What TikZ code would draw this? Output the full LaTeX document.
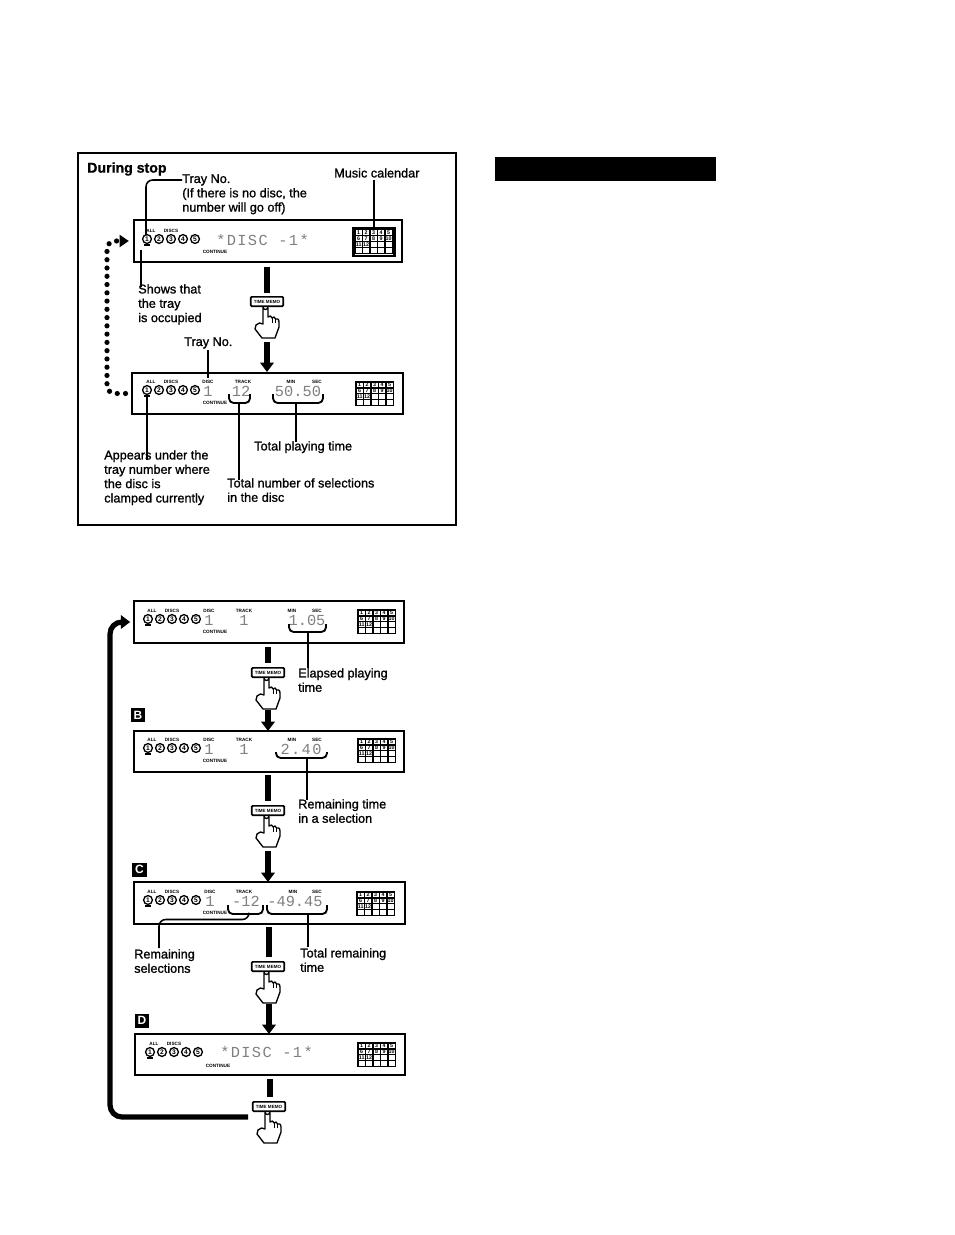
\documentclass[tikz,border=0pt]{standalone}
\usepackage{fontspec}
\setmainfont{Liberation Sans}
\newfontfamily\labelfont[FakeBold=1.1]{Liberation Sans}
\newfontfamily\segfont{Liberation Mono}
\newfontfamily\segwide[LetterSpace=9]{Liberation Mono}
\usetikzlibrary{arrows.meta}
\tikzset{
  panel/.style={draw,line width=1.7pt,fill=white,inner sep=0pt},
  callout/.style={font=\labelfont\fontsize{9.5}{10.75}\selectfont,align=left,anchor=north west,inner sep=0pt},
  mark label/.style={font=\bfseries\fontsize{3.5}{4}\selectfont,inner sep=0pt},
  segtext/.style={font=\segfont\fontsize{11.5}{12}\selectfont,text=black!50,inner sep=0pt},
  segwidetext/.style={font=\segwide\fontsize{11.5}{12}\selectfont,text=black!50,inner sep=0pt},
  tray disc/.style={circle,draw,line width=1pt,minimum size=6.6pt,inner sep=0pt,fill=white,font=\bfseries\fontsize{5}{5}\selectfont},
  leader/.style={line width=1.15pt},
  cal cell/.style={draw,line width=.85pt,minimum width=5.6pt,minimum height=4.5pt,inner sep=0pt,font=\bfseries\fontsize{4}{4}\selectfont},
  step bar/.style={line width=3.9pt},
  step arrow/.style={line width=3.9pt,-{Triangle[length=7pt,width=10pt]}},
  tag/.style={fill=black,text=white,minimum width=11pt,minimum height=10.5pt,inner sep=0pt,font=\bfseries\fontsize{9}{10}\selectfont},
  memo key/.style={draw,line width=1.3pt,rounded corners=.8pt,fill=white,minimum width=24.5pt,minimum height=7pt,inner sep=0pt,font=\bfseries\fontsize{3.4}{4}\selectfont},
  hand/.style={line width=1pt,fill=white,line join=round},
  bracket/.style={line width=1.4pt,rounded corners=3.5pt},
}

% Row of five tray numbers with the ALL and DISCS marks above it: name, first x, y
\newcommand{\trayrow}[3]{%
  \foreach \n in {1,...,5}{%
    \pgfmathsetmacro{\cx}{#2+(\n-1)*12}
    \node[tray disc] (#1-d\n) at (\cx,#3) {\n};
  }
  \node[mark label] (#1-all) at (#2+4,#3-8) {ALL};
  \node[mark label] (#1-discs) at (#2+24,#3-8) {DISCS};
  \draw[line width=.8pt] (#2-3,#3+6) -- (#2+3,#3+6);
}

% Music calendar grid, ten numbered cells: name, left x, top y
\newcommand{\calgrid}[3]{%
  \foreach \r in {0,...,3}{\foreach \c in {0,...,4}{%
    \pgfmathtruncatemacro{\num}{\r*5+\c+1}
    \pgfmathsetmacro{\gx}{#2+3.7+\c*7.5}
    \pgfmathsetmacro{\gy}{#3+3+\r*5.9}
    \ifnum\num>12\relax
      \node[cal cell] (#1-c\num) at (\gx,\gy) {};
    \else
      \node[cal cell] (#1-c\num) at (\gx,\gy) {\num};
    \fi
  }}
}

% Pressing the TIME MEMO key: name, key centre x, key top y
\newcommand{\memohand}[3]{%
  \node[memo key,anchor=north] (#1) at (#2,#3) {TIME MEMO};
  \begin{scope}[shift={(#2,#3)}]
    \draw[hand] (-4,11) arc[start angle=180,end angle=0,radius=2.5] -- (1,21)
      .. controls (3,19) and (4.5,20) .. (5,22)
      .. controls (6.5,20) and (8,21) .. (8.5,23)
      .. controls (10,22) and (12,23) .. (12,26)
      -- (12,31) -- (8,42) -- (-5,42) -- (-12,33) -- (-11,29)
      .. controls (-9,27) and (-6,26) .. (-4,28) -- cycle;
    \draw[line width=.7pt] (5,22) -- (5,27) (8.5,23) -- (8.5,27);
  \end{scope}
}

\begin{document}
\begin{tikzpicture}[x=.75pt,y=-.75pt]
\useasboundingbox (0,0) rectangle (954,1235);

% Upper frame and the dark bar beside it
\node[draw,line width=1.2pt,minimum width=378*.75pt,minimum height=372*.75pt,inner sep=0pt] (frame) at (267,339) {};
\node[fill=black,minimum width=221*.75pt,minimum height=24*.75pt,inner sep=0pt] (bar) at (605.5,169) {};

% ---------- During stop ----------
\node[anchor=west,inner sep=0pt,font=\labelfont\bfseries\fontsize{10.6}{12}\selectfont] (title) at (87,169) {During stop};

\node[panel,minimum width=268*.75pt,minimum height=42*.75pt] (p1) at (268,241) {};
\trayrow{p1}{147}{239}
\node[mark label] (p1-cont) at (215,252) {CONTINUE};
\node[segwidetext,anchor=west] (p1-seg) at (216,240) {*DISC -1*};
\node[draw,line width=2pt,minimum width=41*.75pt,minimum height=28*.75pt,inner sep=0pt] (p1-calbox) at (374,242) {};
\calgrid{p1}{355}{229.5}

\node[panel,minimum width=271*.75pt,minimum height=41*.75pt] (p2) at (267.5,393.5) {};
\trayrow{p2}{147}{390}
\node[mark label] (p2-disc) at (208,382) {DISC};
\node[mark label] (p2-track) at (243,382) {TRACK};
\node[mark label] (p2-min) at (291,382) {MIN};
\node[mark label] (p2-sec) at (317,382) {SEC};
\node[mark label] (p2-cont) at (215,403) {CONTINUE};
\node[segtext] (p2-tray) at (208,391) {1};
\node[segtext] (p2-sel) at (241,391) {12};
\node[segtext] (p2-time) at (298,391) {50.50};
\draw[bracket] (229,394) -- (229,403) -- (250,403) -- (250,394);
\draw[bracket] (273,394) -- (273,403) -- (323,403) -- (323,394);
\calgrid{p2}{356}{382}

\memohand{k1}{267}{296}
\coordinate (s1a) at (267,267);
\coordinate (s1b) at (267,293);
\draw[step bar] (s1a) -- (s1b);
\coordinate (s1c) at (267,342);
\draw[step arrow] (s1c) -- (267,372);

\node[callout] (t-tray) at (182,174) {Tray No.\\(If there is no disc, the\\number will go off)};
\node[callout] (t-cal) at (334,168) {Music calendar};
\node[callout] (t-shows) at (138,284) {Shows that\\the tray\\is occupied};
\node[callout] (t-tray2) at (184,337) {Tray No.};
\node[callout] (t-appears) at (104,450) {Appears under the\\tray number where\\the disc is\\clamped currently};
\node[callout] (t-total) at (254,441) {Total playing time};
\node[callout] (t-num) at (227,478) {Total number of selections\\in the disc};

\draw[leader,rounded corners=5pt] (t-tray.west |- 0,180) -- (146,180) -- (146,235);
\draw[leader] (141,250) -- (141,287);
\draw[leader] (374,180) -- (374,228);
\draw[leader] (208,350) -- (208,378);
\draw[leader] (147,395) -- (147,460);
\draw[leader] (239,403) -- (239,480);
\draw[leader] (296,403) -- (296,442);

% Dotted return path between the two displays
\draw[line width=3.9pt,line cap=round,dash pattern=on 0pt off 6.2pt,rounded corners=6pt,
      -{Triangle[length=7pt,width=9pt]},shorten >=3pt,shorten <=4pt]
  (p2.west) -- (107,393.5) -- (107,241) -- (p1.west);

% ---------- Display cycle ----------
\node[panel,minimum width=270*.75pt,minimum height=42*.75pt] (p3) at (269,622) {};
\trayrow{p3}{148}{619}
\node[mark label] (p3-disc) at (209,611) {DISC};
\node[mark label] (p3-track) at (244,611) {TRACK};
\node[mark label] (p3-min) at (292,611) {MIN};
\node[mark label] (p3-sec) at (317,611) {SEC};
\node[mark label] (p3-cont) at (215,632) {CONTINUE};
\node[segtext] (p3-tray) at (209,620) {1};
\node[segtext] (p3-trk) at (244,620) {1};
\node[segtext] (p3-time) at (307,620) {1.05};
\draw[bracket] (289,624) -- (289,632) -- (326,632) -- (326,624);
\calgrid{p3}{358}{610}
\draw[leader] (308,632) -- (308,668);
\node[callout] (t-elapsed) at (298,668) {Elapsed playing\\time};

\memohand{k2}{268}{667}
\coordinate (s2a) at (268,647);
\draw[step bar] (s2a) -- (268,663);
\coordinate (s2c) at (268,710);
\draw[step arrow] (s2c) -- (268,731);

\node[tag] (tagB) at (138,715) {B};
\node[panel,minimum width=270*.75pt,minimum height=41*.75pt] (p4) at (269,751.5) {};
\trayrow{p4}{148}{748}
\node[mark label] (p4-disc) at (209,740) {DISC};
\node[mark label] (p4-track) at (244,740) {TRACK};
\node[mark label] (p4-min) at (292,740) {MIN};
\node[mark label] (p4-sec) at (317,740) {SEC};
\node[mark label] (p4-cont) at (215,761) {CONTINUE};
\node[segtext] (p4-tray) at (209,749) {1};
\node[segtext] (p4-trk) at (244,749) {1};
\node[segwidetext] (p4-time) at (301,749) {2.40};
\draw[bracket] (276,752) -- (276,758) -- (327,758) -- (327,752);
\calgrid{p4}{358}{739}
\draw[leader] (307,758) -- (307,800);
\node[callout] (t-remain) at (298,799) {Remaining time\\in a selection};

\memohand{k3}{268}{805}
\coordinate (s3a) at (268,775);
\draw[step bar] (s3a) -- (268,801);
\coordinate (s3c) at (268,851);
\draw[step arrow] (s3c) -- (268,882);

\node[tag] (tagC) at (139.5,869.5) {C};
\node[panel,minimum width=271*.75pt,minimum height=42*.75pt] (p5) at (269.5,903) {};
\trayrow{p5}{148}{900}
\node[mark label] (p5-disc) at (210,892) {DISC};
\node[mark label] (p5-track) at (244,892) {TRACK};
\node[mark label] (p5-min) at (293,892) {MIN};
\node[mark label] (p5-sec) at (317,892) {SEC};
\node[mark label] (p5-cont) at (215,913) {CONTINUE};
\node[segtext] (p5-tray) at (210,901) {1};
\node[segtext] (p5-sel) at (246,901) {-12};
\node[segtext] (p5-time) at (295,901) {-49.45};
\draw[bracket] (228,905) -- (228,914) -- (263,914) -- (263,905);
\draw[bracket] (267,905) -- (267,914) -- (327,914) -- (327,905);
\calgrid{p5}{357}{892}
\draw[leader,rounded corners=5pt] (249,915) -- (249,919.5) -- (159,919.5) -- (159,948);
\draw[leader] (308,914) -- (308,947);
\node[callout] (t-rsel) at (134,949) {Remaining\\selections};
\node[callout] (t-rtot) at (300,948) {Total remaining\\time};

\memohand{k4}{268}{961}
\coordinate (s4a) at (269,927);
\draw[step bar] (s4a) -- (269,957);
\coordinate (s4c) at (269,1004);
\draw[step arrow] (s4c) -- (269,1034);

\node[tag] (tagD) at (142,1020.5) {D};
\node[panel,minimum width=270*.75pt,minimum height=41*.75pt] (p6) at (270,1054.5) {};
\trayrow{p6}{150}{1052}
\node[mark label] (p6-cont) at (218,1066) {CONTINUE};
\node[segwidetext,anchor=west] (p6-seg) at (220,1052) {*DISC -1*};
\calgrid{p6}{358}{1043}

\memohand{k5}{269}{1101}
\coordinate (s5a) at (270,1079);
\draw[step bar] (s5a) -- (270,1097);

% Solid return path from the last key to the first display
\coordinate (loopstart) at (248,1117);
\draw[line width=3.9pt,rounded corners=9pt,-{Triangle[length=7pt,width=10pt]},shorten >=2pt]
  (loopstart) -- (110,1117) -- (110,622) -- (p3.west);
\end{tikzpicture}
\end{document}
